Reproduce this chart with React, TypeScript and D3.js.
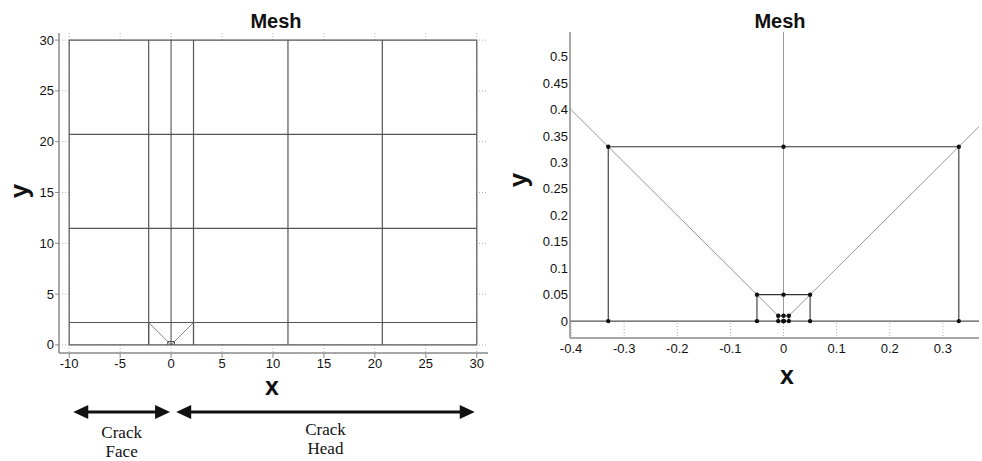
import React from 'react';
import * as d3 from 'd3';

// mesh description (data units)
const outerXs = [-10, -2.2, 0, 2.2, 11.47, 20.73, 30];
const outerYs = [0, 2.2, 11.47, 20.73, 30];
const squareSizes = [2.2, 0.33, 0.05, 0.01];

// tick values
const xTicksLeft = [-10, -5, 0, 5, 10, 15, 20, 25, 30];
const yTicksLeft = [0, 5, 10, 15, 20, 25, 30];
const xTicksRight = [-0.4, -0.3, -0.2, -0.1, 0, 0.1, 0.2, 0.3];
const yTicksRight = [0, 0.05, 0.1, 0.15, 0.2, 0.25, 0.3, 0.35, 0.4, 0.45, 0.5];

// annotation arrows under the left plot
const arrowFrom = [-9.6, 0.5];
const arrowTo = [-0.1, 29.8];
const arrowLabels = [['Crack', 'Face'], ['Crack', 'Head']];

type Seg = { x1: number; y1: number; x2: number; y2: number; kind: string };

const buildSegments = (): Seg[] => {
  const segs: Seg[] = [];
  const xMin = outerXs[0], xMax = outerXs[outerXs.length - 1];
  const yMax = outerYs[outerYs.length - 1];
  outerYs.forEach(v => segs.push({ x1: xMin, y1: v, x2: xMax, y2: v, kind: 'outer' }));
  outerXs.forEach(v => segs.push({ x1: v, y1: 0, x2: v, y2: yMax, kind: v === 0 ? 'center' : 'outer' }));
  squareSizes.forEach((a, i) => {
    segs.push({ x1: -a, y1: a, x2: a, y2: a, kind: 'square' });
    segs.push({ x1: -a, y1: 0, x2: -a, y2: a, kind: 'square' });
    segs.push({ x1: a, y1: 0, x2: a, y2: a, kind: 'square' });
    const b = squareSizes[i + 1];
    if (b !== undefined) {
      segs.push({ x1: -a, y1: a, x2: -b, y2: b, kind: 'diag' });
      segs.push({ x1: a, y1: a, x2: b, y2: b, kind: 'diag' });
    }
  });
  return segs;
};

const buildNodes = () => {
  const pts: [number, number][] = [];
  squareSizes.forEach(a => {
    [-a, 0, a].forEach(px => {
      pts.push([px, 0]);
      pts.push([px, a]);
    });
  });
  return pts;
};

const segments = buildSegments();
const nodes = buildNodes();

const SANS = '"Liberation Sans", Arial, Helvetica, sans-serif';
const SERIF = '"Liberation Serif", "Times New Roman", serif';

interface PanelProps {
  id: string;
  xLim: [number, number];
  yLim: [number, number];
  left: number; right: number; top: number; bottom: number;
  xTicks: number[];
  yTicks: number[];
  showNodes: boolean;
  outTicks: boolean;
  colors: Record<string, string>;
  widths: Record<string, number>;
  titleX: number;
  xLabelPos: [number, number];
  yLabelPos: [number, number];
  xTickY: number;
}

const Panel: React.FC<PanelProps> = (p) => {
  const x = d3.scaleLinear().domain(p.xLim).range([p.left, p.right]);
  const y = d3.scaleLinear().domain(p.yLim).range([p.bottom, p.top]);
  const meshX = [outerXs[0], outerXs[outerXs.length - 1]];
  const meshY = [outerYs[0], outerYs[outerYs.length - 1]];

  return (
    <g>
      <defs>
        <clipPath id={p.id}>
          <rect x={p.left} y={p.top} width={p.right - p.left} height={p.bottom - p.top} />
        </clipPath>
      </defs>
      <text x={p.titleX} y={28} textAnchor="middle" fontFamily={SANS} fontWeight="bold" fontSize={20} fill="#111">Mesh</text>

      {/* dotted grid, hidden under the white mesh patches */}
      <g clipPath={`url(#${p.id})`} stroke="#b0b0b0" strokeWidth={1} strokeDasharray="1,2">
        {p.xTicks.map(t => <line key={'gx' + t} x1={x(t)} x2={x(t)} y1={p.top} y2={p.bottom} />)}
        {p.yTicks.map(t => <line key={'gy' + t} x1={p.left} x2={p.right} y1={y(t)} y2={y(t)} />)}
      </g>

      <g clipPath={`url(#${p.id})`}>
        <rect x={x(meshX[0])} y={y(meshY[1])} width={x(meshX[1]) - x(meshX[0])} height={y(meshY[0]) - y(meshY[1])} fill="#fff" />
        {segments.map((s, i) => (
          <line key={i} x1={x(s.x1)} y1={y(s.y1)} x2={x(s.x2)} y2={y(s.y2)}
            stroke={p.colors[s.kind]} strokeWidth={p.widths[s.kind]} />
        ))}
        {p.showNodes && nodes.map(([nx, ny], i) => (
          <circle key={'n' + i} cx={x(nx)} cy={y(ny)} r={2.2} fill="#111" />
        ))}
      </g>

      {/* axes (box off) */}
      <line x1={p.left} x2={p.left} y1={p.top} y2={p.bottom} stroke="#8a8a8a" strokeWidth={1.5} />
      <line x1={p.left} x2={p.right} y1={p.bottom} y2={p.bottom} stroke="#8a8a8a" strokeWidth={1.5} />
      {p.outTicks && p.yTicks.map(t => (
        <line key={'ty' + t} x1={p.left - 4} x2={p.left} y1={y(t)} y2={y(t)} stroke="#8a8a8a" strokeWidth={1} />
      ))}
      {p.outTicks && p.xTicks.map(t => (
        <line key={'tx' + t} x1={x(t)} x2={x(t)} y1={p.bottom} y2={p.bottom + 5} stroke="#8a8a8a" strokeWidth={1} />
      ))}

      <g fontFamily={SANS} fontSize={13} fill="#111">
        {p.yTicks.map(t => (
          <text key={'ly' + t} x={p.left - (p.outTicks ? 5 : 2)} y={y(t) + 4.5} textAnchor="end">{String(t)}</text>
        ))}
        {p.xTicks.map(t => (
          <text key={'lx' + t} x={x(t)} y={p.xTickY} textAnchor="middle">{String(t)}</text>
        ))}
      </g>

      <text x={p.xLabelPos[0]} y={p.xLabelPos[1]} textAnchor="middle" fontFamily={SANS} fontWeight="bold" fontSize={25} fill="#111">x</text>
      <text transform={`translate(${p.yLabelPos[0]},${p.yLabelPos[1]}) rotate(-90)`} textAnchor="middle"
        fontFamily={SANS} fontWeight="bold" fontSize={26} fill="#111">y</text>
    </g>
  );
};

const Arrows: React.FC<{ x: d3.ScaleLinear<number, number> }> = ({ x }) => {
  const yLine = 412;
  const head = 15, half = 7;
  return (
    <g>
      {arrowFrom.map((f, i) => {
        const x0 = x(f), x1 = x(arrowTo[i]);
        const mid = (x0 + x1) / 2;
        const lbl = arrowLabels[i];
        return (
          <g key={i}>
            <line x1={x0 + head - 1} x2={x1 - head + 1} y1={yLine} y2={yLine} stroke="#111" strokeWidth={3} />
            <polygon points={`${x0},${yLine} ${x0 + head},${yLine - half} ${x0 + head},${yLine + half}`} fill="#111" />
            <polygon points={`${x1},${yLine} ${x1 - head},${yLine - half} ${x1 - head},${yLine + half}`} fill="#111" />
            <text x={mid} y={i === 0 ? 438 : 435} textAnchor="middle" fontFamily={SERIF} fontSize={17} fill="#111">{lbl[0]}</text>
            <text x={mid} y={i === 0 ? 457 : 454} textAnchor="middle" fontFamily={SERIF} fontSize={17} fill="#111">{lbl[1]}</text>
          </g>
        );
      })}
    </g>
  );
};

export default function App() {
  const leftLim: [number, number] = [-11, 31.1];
  const left = { l: 59, r: 488, t: 33, b: 353 };
  const xLeft = d3.scaleLinear().domain(leftLim).range([left.l, left.r]);

  return (
    <div style={{ position: 'fixed', left: 0, top: 0, background: '#fff' }}>
      <svg width={982} height={461} style={{ display: 'block' }}>
        <rect width={982} height={461} fill="#fff" />
        <Panel
          id="clipL"
          xLim={leftLim} yLim={[-0.8, 30.7]}
          left={left.l} right={left.r} top={left.t} bottom={left.b}
          xTicks={xTicksLeft} yTicks={yTicksLeft}
          showNodes={false} outTicks={true}
          colors={{ outer: '#555', center: '#444', square: '#555', diag: '#666' }}
          widths={{ outer: 1.2, center: 1, square: 1.1, diag: 0.8 }}
          titleX={276}
          xLabelPos={[272, 395]} yLabelPos={[28, 191]}
          xTickY={368}
        />
        <Panel
          id="clipR"
          xLim={[-0.402, 0.368]} yLim={[-0.032, 0.547]}
          left={570} right={979} top={32} bottom={338}
          xTicks={xTicksRight} yTicks={yTicksRight}
          showNodes={true} outTicks={false}
          colors={{ outer: '#555', center: '#9a9a9a', square: '#333', diag: '#8a8a8a' }}
          widths={{ outer: 1.1, center: 1, square: 1.1, diag: 0.9 }}
          titleX={780}
          xLabelPos={[787, 384]} yLabelPos={[527, 180]}
          xTickY={353}
        />
        <Arrows x={xLeft} />
      </svg>
    </div>
  );
}
